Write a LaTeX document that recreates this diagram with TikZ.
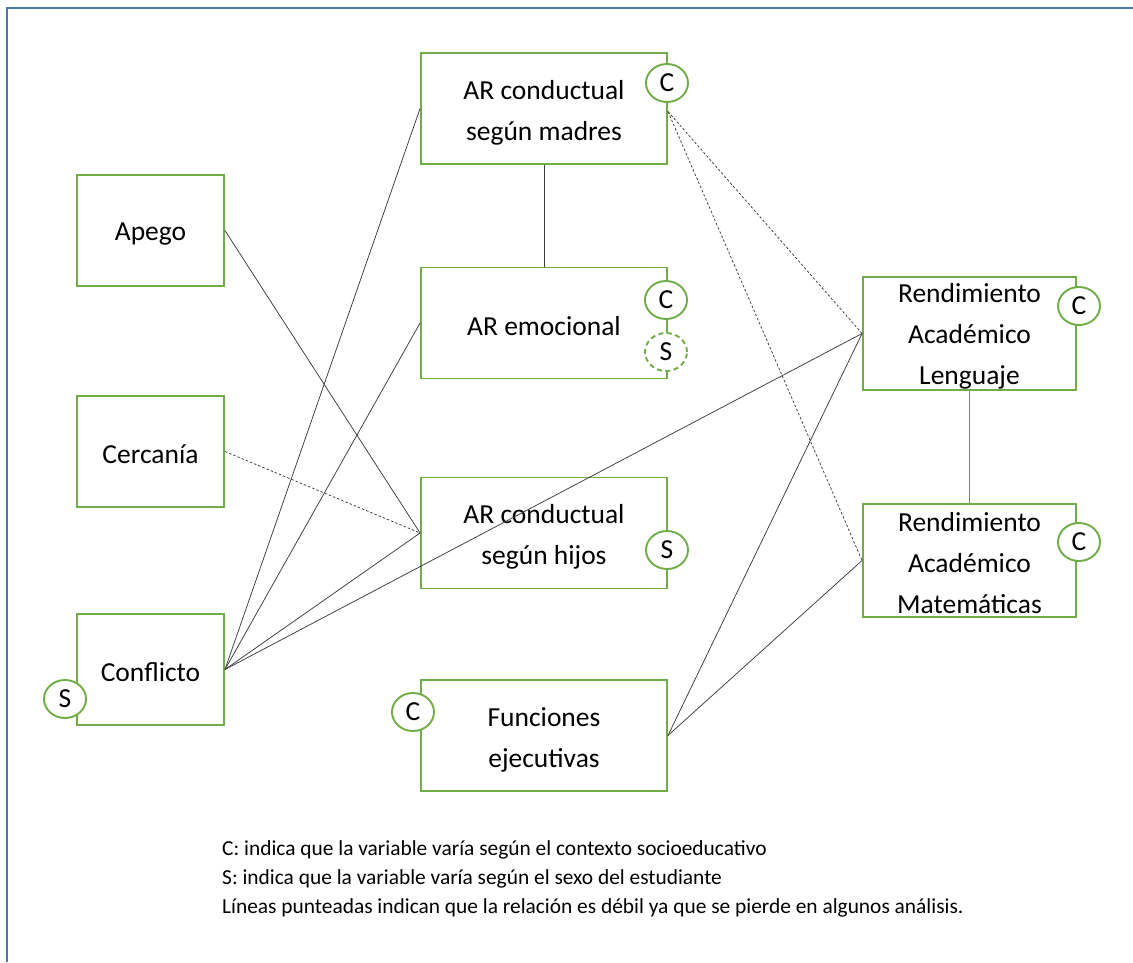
\documentclass[tikz,border=0pt]{standalone}
\usepackage{fontspec}
\setmainfont{Carlito}
\usetikzlibrary{shapes.geometric}
\definecolor{boxgreen}{RGB}{112,173,71}
\definecolor{frameblue}{RGB}{74,122,176}
\definecolor{linkgray}{RGB}{60,60,60}

\begin{document}
\begin{tikzpicture}[x=1pt,y=-1pt,
  varbox/.style={draw=boxgreen, line width=1.9pt, rectangle, inner sep=0pt},
  widebox/.style={varbox, minimum width=246, minimum height=111},
  narrowbox/.style={varbox, minimum width=147, minimum height=111},
  resultbox/.style={varbox, minimum width=213, minimum height=113},
  boxtext/.style={align=center, inner sep=0pt, font=\fontsize{27.5}{41}\selectfont},
  badge/.style={ellipse, draw=boxgreen, line width=1.9pt, fill=white,
    minimum width=42, minimum height=38, inner sep=0pt,
    font=\fontsize{27.5}{30}\selectfont},
  weakbadge/.style={badge, dash pattern=on 5pt off 3.5pt},
  link/.style={draw=linkgray, line width=0.75pt},
  weaklink/.style={link, dash pattern=on 2.5pt off 2pt},
  legend/.style={align=left, inner sep=0pt, font=\fontsize{21.4}{29}\selectfont}]

\useasboundingbox (0,0) rectangle (1133,962);

% page frame
\draw[frameblue, line width=2.2pt] (1133,8) -- (7,8) -- (7,962);

% variable boxes
\node[widebox]   (madres) at (544,108.5) {};
\node[widebox]   (emoc)   at (544,323)   {};
\node[widebox]   (hijos)  at (544,533)   {};
\node[widebox]   (func)   at (544,735.5) {};
\node[narrowbox] (apego)  at (150.5,230.5) {};
\node[narrowbox] (cerca)  at (150.5,451.5) {};
\node[narrowbox] (confl)  at (150.5,669.5) {};
\node[resultbox] (leng)   at (969.5,333.5) {};
\node[resultbox] (mate)   at (969.5,560.5) {};

% variable names, set a little below each box centre
\node[boxtext] (madresT) at ([yshift=-4pt]madres.center) {AR conductual\\según madres};
\node[boxtext] (emocT)   at ([yshift=-3pt]emoc.center)   {AR emocional};
\node[boxtext] (hijosT)  at ([yshift=-4pt]hijos.center)  {AR conductual\\según hijos};
\node[boxtext] (funcT)   at ([yshift=-4pt]func.center)   {Funciones\\ejecutivas};
\node[boxtext] (apegoT)  at ([yshift=-4pt]apego.center)  {Apego};
\node[boxtext] (cercaT)  at ([yshift=-3pt]cerca.center)  {Cercanía};
\node[boxtext] (conflT)  at ([yshift=-3pt]confl.center)  {Conflicto};
\node[boxtext] (lengT)   at ([yshift=-3pt]leng.center)   {Rendimiento\\Académico\\Lenguaje};
\node[boxtext] (mateT)   at ([yshift=-3pt]mate.center)   {Rendimiento\\Académico\\Matemáticas};

% relations
\draw[link] (madres.south) -- (emoc.north);
\draw[link, draw=gray, line width=1.2pt] (leng.south) -- (mate.north);
\draw[link] (apego.east) -- (hijos.west);
\draw[weaklink] (cerca.east) -- (hijos.west);
\draw[link] (confl.east) -- (madres.west);
\draw[link] (confl.east) -- (emoc.west);
\draw[link] (confl.east) -- (hijos.west);
\draw[link] (confl.east) -- (leng.west);
\draw[weaklink] ([yshift=-3pt]madres.east) -- (leng.west);
\draw[weaklink] ([yshift=-3pt]madres.east) -- (mate.west);
\draw[link] (func.east) -- (leng.west);
\draw[link] (func.east) -- (mate.west);

% moderator badges
\node[badge]     (madresC) at (667,83)   {C};
\node[badge]     (emocC)   at (666,300)  {C};
\node[weakbadge] (emocS)   at (666,352)  {S};
\node[badge]     (hijosS)  at (667,550)  {S};
\node[badge]     (conflS)  at (65,699)   {S};
\node[badge]     (funcC)   at (413,712)  {C};
\node[badge]     (lengC)   at (1079,306) {C};
\node[badge]     (mateC)   at (1079,542) {C};

% legend
\node[legend, anchor=base west] (key) at (222,913)
  {C: indica que la variable varía según el contexto socioeducativo\\
   S: indica que la variable varía según el sexo del estudiante\\
   Líneas punteadas indican que la relación es débil ya que se pierde en algunos análisis.};
\end{tikzpicture}
\end{document}
